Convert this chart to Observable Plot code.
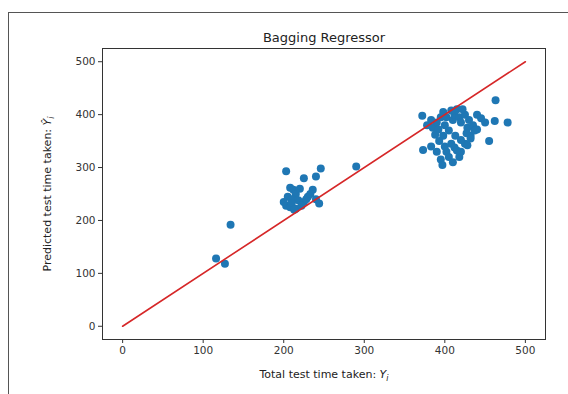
<!DOCTYPE html>
<html>
<head>
<meta charset="utf-8">
<script src="https://cdn.jsdelivr.net/npm/d3@7"></script>
<script src="https://cdn.jsdelivr.net/npm/@observablehq/plot@0.6"></script>
<style>
  body { margin: 0; background: white; }
  #wrap { position: relative; width: 568px; height: 394px; overflow: hidden; }
  #border { position: absolute; left: 8px; top: 12px; width: 700px; height: 500px;
            border-left: 1.5px solid #555; border-top: 1.5px solid #555; pointer-events: none; }
</style>
</head>
<body>
<div id="wrap"><div id="border"></div></div>
<script>
// Actual (x) vs predicted (y) test time
const actual = [
  116, 127, 134,
  203, 225, 246, 240, 208, 212, 215, 220, 205, 210, 218, 225, 230, 236, 203, 208, 215, 222, 210, 228, 240, 244, 233, 213, 200,
  290,
  372, 378, 385, 390, 395, 398, 400, 405, 410, 412, 415, 418, 420, 425, 428, 430, 422, 408, 392, 383, 402, 435, 440, 445, 432, 427, 413, 398, 388, 440, 450, 463, 478, 462, 455, 437,
  373, 383, 390, 395, 397, 402, 408, 412, 405, 418, 420, 425, 428, 432, 420, 410, 415, 400, 393
];
const predicted = [
  128, 118, 192,
  293, 280, 298, 283, 262, 258, 250, 260, 245, 240, 238, 235, 245, 258, 228, 225, 222, 228, 233, 240, 240, 232, 250, 220, 235,
  302,
  398, 380, 375, 385, 395, 405, 380, 370, 390, 400, 410, 395, 385, 400, 375, 390, 410, 408, 372, 390, 395, 380, 400, 393, 360, 365, 360, 360, 362, 372, 385, 427, 385, 388, 350, 370,
  333, 340, 330, 315, 305, 330, 345, 338, 320, 320, 330, 345, 342, 355, 352, 310, 332, 340, 350
];
const refLine = [0, 500];
const xTicks = [0, 100, 200, 300, 400, 500];
const yTicks = [0, 100, 200, 300, 400, 500];
const titleText = "Bagging Regressor";
const xLabelText = "Total test time taken: ";
const yLabelText = "Predicted test time taken: ";

const points = actual.map((a, i) => ({a, p: predicted[i]}));
const line = refLine.map(v => ({a: v, p: v}));

const chart = Plot.plot({
  width: 568, height: 394,
  marginLeft: 102, marginRight: 23, marginTop: 48, marginBottom: 55,
  style: {fontFamily: "DejaVu Sans", fontSize: "10.5px", color: "#333", background: "white"},
  x: {domain: [-25, 525]},
  y: {domain: [-25, 525]},
  marks: [
    Plot.dot(points, {x: "a", y: "p", r: 4, fill: "#1f77b4", stroke: "none"}),
    Plot.line(line, {x: "a", y: "p", stroke: "#d62728", strokeWidth: 1.6}),
    Plot.frame({stroke: "#333", strokeWidth: 1}),
    Plot.axisX({ticks: xTicks, tickSize: 4, tickPadding: 3, label: null, stroke: "#333"}),
    Plot.axisY({ticks: yTicks, tickSize: 4, tickPadding: 3, label: null, stroke: "#333"}),
    Plot.text([titleText], {frameAnchor: "top", lineAnchor: "middle", textAnchor: "middle", dy: -11, fontSize: 13, fill: "#222"}),
    Plot.text([xLabelText], {frameAnchor: "bottom", lineAnchor: "middle", textAnchor: "middle", dy: 35, fontSize: 11, fill: "#222"}),
    Plot.text([yLabelText], {frameAnchor: "left", lineAnchor: "middle", textAnchor: "middle", dx: -55, rotate: -90, fontSize: 11, fill: "#222"})
  ]
});

const svg = d3.select(chart.tagName === "svg" ? chart : chart.querySelector("svg"));
svg.selectAll("text").each(function() {
  const t = this.textContent;
  if (t === xLabelText) {
    const s = d3.select(this);
    s.attr("xml:space", "preserve");
    s.append("tspan").attr("font-style", "italic").text("Y");
    s.append("tspan").attr("font-style", "italic").attr("font-size", 8).attr("dy", 3).text("i");
  } else if (t === yLabelText) {
    const s = d3.select(this);
    s.attr("xml:space", "preserve");
    s.append("tspan").attr("font-style", "italic").text("Ŷ");
    s.append("tspan").attr("font-style", "italic").attr("font-size", 8).attr("dy", 3).text("i");
  }
});

document.getElementById("wrap").insertBefore(chart, document.getElementById("border"));
</script>
</body>
</html>
